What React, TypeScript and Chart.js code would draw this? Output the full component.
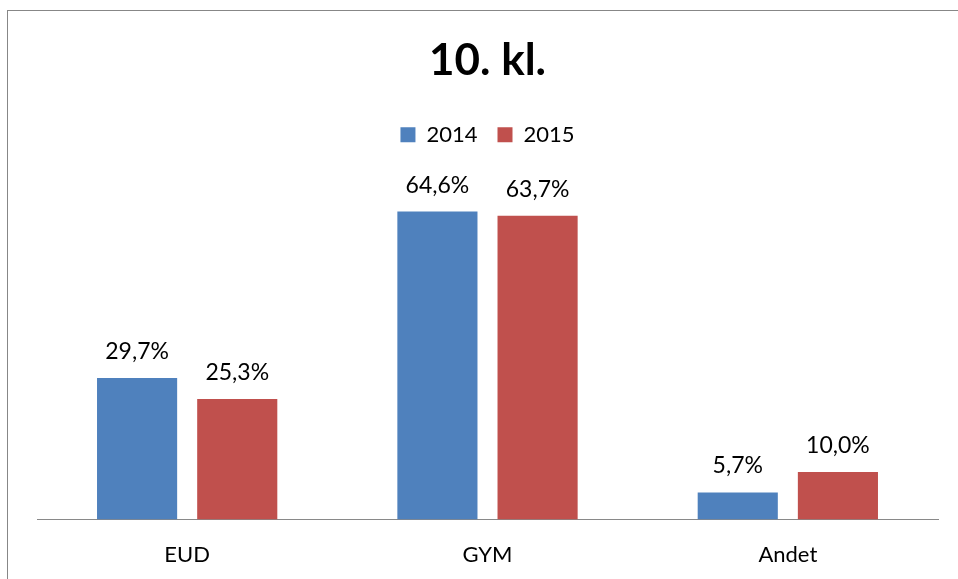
import React, { useEffect, useRef } from "react";
import { Chart, registerables } from "chart.js";

Chart.register(...registerables);

const categories = ["EUD", "GYM", "Andet"];
const series2014 = [29.7, 64.6, 5.7];
const series2015 = [25.3, 63.7, 10.0];
const seriesLabels = ["2014", "2015"];
const titleText = "10. kl.";
const yMax = 70;

const FONT = "Lato, 'Open Sans', sans-serif";

const dataLabelPlugin = {
  id: "dataLabels",
  afterDatasetsDraw(chart: any) {
    const ctx = chart.ctx;
    ctx.save();
    ctx.font = `23px ${FONT}`;
    ctx.fillStyle = "#000";
    ctx.textAlign = "center";
    ctx.textBaseline = "alphabetic";
    chart.data.datasets.forEach((ds: any, di: number) => {
      const meta = chart.getDatasetMeta(di);
      meta.data.forEach((bar: any, i: number) => {
        const v = ds.data[i] as number;
        const txt = v.toFixed(1).replace(".", ",") + "%";
        ctx.fillText(txt, bar.x, bar.y - 19);
      });
    });
    ctx.restore();
  },
};

const framePlugin = {
  id: "frame",
  beforeDraw(chart: any) {
    const ctx = chart.ctx;
    ctx.save();
    ctx.fillStyle = "#fff";
    ctx.fillRect(0, 0, chart.width, chart.height);
    ctx.fillStyle = "#878787";
    ctx.fillRect(7, 10, 1, chart.height - 10);
    ctx.fillRect(7, 10, chart.width - 7, 1);
    ctx.restore();
  },
};

const legendSpacePlugin = {
  id: "legendSpace",
  beforeInit(chart: any) {
    const legend = chart.legend;
    if (!legend) return;
    const origFit = legend.fit;
    legend.fit = function () {
      origFit.call(this);
      this.height += 30;
    };
  },
};

export default function App() {
  const ref = useRef<HTMLCanvasElement>(null);
  useEffect(() => {
    if (!ref.current) return;
    const chart = new Chart(ref.current, {
      type: "bar",
      data: {
        labels: categories,
        datasets: [
          {
            label: seriesLabels[0],
            data: series2014,
            backgroundColor: "#4F81BD",
            barPercentage: 0.8,
            categoryPercentage: 0.667,
          },
          {
            label: seriesLabels[1],
            data: series2015,
            backgroundColor: "#C0504D",
            barPercentage: 0.8,
            categoryPercentage: 0.667,
          },
        ],
      },
      options: {
        responsive: false,
        animation: false,
        devicePixelRatio: 1,
        layout: { padding: { left: 37, right: 38, top: 0, bottom: 12 } },
        plugins: {
          title: {
            display: true,
            text: titleText,
            color: "#000",
            font: { family: FONT, size: 44, weight: "bold" },
            padding: { top: 34, bottom: 17 },
          },
          legend: {
            display: true,
            position: "top",
            labels: {
              boxWidth: 15,
              boxHeight: 15,
              padding: 20,
              color: "#000",
              font: { family: FONT, size: 22 },
            },
          },
          tooltip: { enabled: false },
        },
        scales: {
          x: {
            grid: { display: false, drawTicks: false },
            border: { display: true, color: "#898989", width: 1 },
            ticks: { color: "#000", font: { family: FONT, size: 22 }, padding: 22 },
          },
          y: {
            display: false,
            min: 0,
            max: yMax,
          },
        },
      },
      plugins: [legendSpacePlugin, dataLabelPlugin, framePlugin],
    });
    return () => chart.destroy();
  }, []);
  return (
    <div style={{ position: "fixed", left: 0, top: 0, width: 958, height: 579, overflow: "hidden", background: "#fff" }}>
      <canvas ref={ref} width={976} height={602} style={{ width: 976, height: 602, display: "block" }} />
    </div>
  );
}
